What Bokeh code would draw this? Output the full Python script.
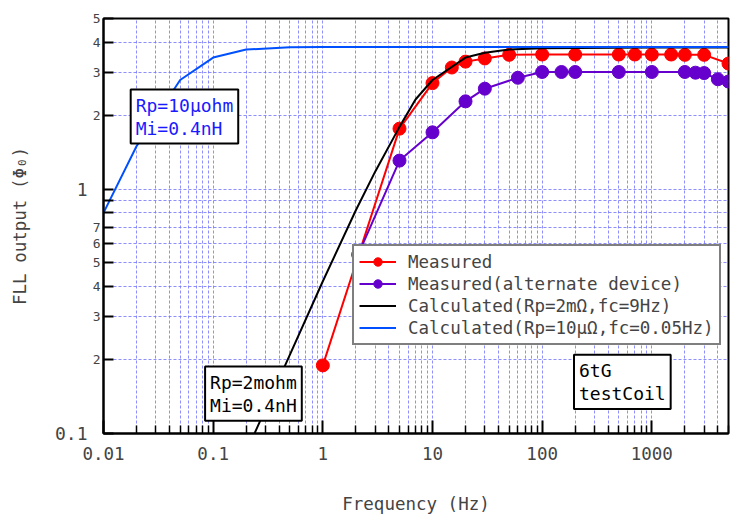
from bokeh.plotting import figure
from bokeh.models import (LogAxis, FixedTicker, Label, Legend, LegendItem, Range1d)
from bokeh.embed import file_html
from bokeh.resources import INLINE

FONT = "DejaVu Sans Mono"

# ---------------- data ----------------
x_major = [0.01, 0.1, 1, 10, 100, 1000]
x_major_labels = ["0.01", "0.1", "1", "10", "100", "1000"]
x_minor = [d * k for d in [0.01, 0.1, 1, 10, 100, 1000] for k in range(2, 10)]

y_major = [0.1, 1]
y_major_labels = ["0.1", "1"]
y_minor = [0.1, 0.2, 0.3, 0.4, 0.5, 0.6, 0.7, 0.8, 0.9, 1, 2, 3, 4, 5]
y_minor_labels = ["", "2", "3", "4", "5", "6", "7", "", "", "", "2", "3", "4", "5"]

freq_meas = [1, 5, 10, 15, 20, 30, 50, 100, 200, 500, 700, 1000, 1500, 2000, 3000, 5000]
meas = [0.19, 1.77, 2.72, 3.15, 3.33, 3.43, 3.55, 3.56, 3.56, 3.56, 3.56, 3.56, 3.56, 3.55, 3.55, 3.27]

freq_alt = [2.1, 5, 10, 20, 30, 60, 100, 150, 200, 500, 1000, 2000, 2500, 3000, 4000, 5000]
alt = [0.54, 1.31, 1.71, 2.29, 2.58, 2.86, 3.02, 3.02, 3.02, 3.02, 3.02, 3.02, 3.0, 2.99, 2.82, 2.76]

freq_calc_2m = [0.1, 0.2, 0.5, 1, 2, 3, 5, 7, 10, 20, 30, 50, 100, 1000, 5000]
calc_2m = [0.042, 0.084, 0.21, 0.42, 0.82, 1.18, 1.8, 2.33, 2.8, 3.46, 3.62, 3.73, 3.78, 3.8, 3.8]

freq_calc_10u = [0.01, 0.02, 0.05, 0.1, 0.2, 0.5, 1, 10, 100, 1000, 5000]
calc_10u = [0.8, 1.5, 2.8, 3.46, 3.73, 3.81, 3.82, 3.82, 3.82, 3.82, 3.82]

legend_labels = ["Measured", "Measured(alternate device)",
                 "Calculated(Rp=2mΩ,fc=9Hz)", "Calculated(Rp=10μΩ,fc=0.05Hz)"]

# ---------------- figure ----------------
p = figure(width=745, height=516, x_axis_type="log", y_axis_type="log",
           x_range=Range1d(0.01, 5000), y_range=Range1d(0.1, 5),
           output_backend="svg", toolbar_location=None,
           min_border_left=103, min_border_right=17, min_border_top=18, min_border_bottom=82,
           background_fill_color="white", border_fill_color="white")
p.outline_line_color = "black"
p.outline_line_width = 2

# x axis
xa = p.xaxis[0]
xa.ticker = FixedTicker(ticks=x_major, minor_ticks=x_minor)
xa.major_label_overrides = dict(zip(x_major, x_major_labels))
xa.major_tick_in = 13
xa.major_tick_out = 0
xa.minor_tick_in = 8
xa.minor_tick_out = 0
xa.axis_line_width = 2
xa.major_tick_line_width = 2
xa.minor_tick_line_width = 1.5
xa.major_label_text_font = FONT
xa.major_label_text_font_size = "17.5px"
xa.major_label_standoff = 13
xa.axis_label = "Frequency (Hz)"
xa.axis_label_text_font = FONT
xa.axis_label_text_font_size = "17.5px"
xa.axis_label_text_font_style = "normal"
xa.axis_label_standoff = 31

# inner y axis: ticks + small labels
ya = p.yaxis[0]
ya.ticker = FixedTicker(ticks=y_minor, minor_ticks=[])
ya.major_label_overrides = dict(zip(y_minor, y_minor_labels))
ya.major_tick_in = 10
ya.major_tick_out = 0
ya.minor_tick_in = 0
ya.minor_tick_out = 0
ya.axis_line_width = 2
ya.major_tick_line_width = 2
ya.major_label_text_font = FONT
ya.major_label_text_font_size = "13px"
ya.major_label_standoff = 3

# outer y axis: large labels 0.1 and 1 + title
ya2 = LogAxis(ticker=FixedTicker(ticks=y_major, minor_ticks=[]),
              major_label_overrides=dict(zip(y_major, y_major_labels)),
              major_tick_in=0, major_tick_out=0, minor_tick_in=0, minor_tick_out=0,
              axis_line_color=None,
              major_label_text_font=FONT, major_label_text_font_size="18px",
              major_label_standoff=2,
              axis_label="FLL output (Φ₀)", axis_label_text_font=FONT,
              axis_label_text_font_size="17.5px", axis_label_text_font_style="normal",
              axis_label_standoff=22)
p.add_layout(ya2, "left")

# grids
for g in (p.xgrid[0], p.ygrid[0]):
    g.grid_line_color = "#7272ff"
    g.grid_line_alpha = 0.8
    g.grid_line_dash = "3 2"
    g.grid_line_width = 1
p.xgrid[0].minor_grid_line_color = "#7272ff"
p.xgrid[0].minor_grid_line_alpha = 0.8
p.xgrid[0].minor_grid_line_dash = "3 2"
p.xgrid[0].minor_grid_line_width = 1

# series
RED, PURPLE, BLUE = "#ff0000", "#6600cc", "#0050ff"
r1l = p.line(freq_meas, meas, line_color=RED, line_width=2)
r1s = p.scatter(freq_meas, meas, size=13, fill_color=RED, line_color=RED)
r2l = p.line(freq_alt, alt, line_color=PURPLE, line_width=2)
r2s = p.scatter(freq_alt, alt, size=13, fill_color=PURPLE, line_color=PURPLE)
r3 = p.line(freq_calc_2m, calc_2m, line_color="black", line_width=2)
r4 = p.line(freq_calc_10u, calc_10u, line_color=BLUE, line_width=2)

legend = Legend(items=[
    LegendItem(label=legend_labels[0], renderers=[r1l, r1s]),
    LegendItem(label=legend_labels[1], renderers=[r2l, r2s]),
    LegendItem(label=legend_labels[2], renderers=[r3]),
    LegendItem(label=legend_labels[3], renderers=[r4]),
], location=(249, 88))
legend.label_text_font = FONT
legend.label_text_font_size = "17.5px"
legend.border_line_color = "black"
legend.border_line_width = 2
legend.background_fill_color = "white"
legend.background_fill_alpha = 1
legend.padding = 5
legend.spacing = 1
legend.margin = 0
legend.glyph_width = 37
legend.glyph_height = 21
legend.label_height = 21
legend.label_standoff = 12
p.add_layout(legend)

# annotation boxes
def box(x, y, text, color):
    lab = Label(x=x, y=y, text=text, anchor="top_left",
                text_font=FONT, text_font_size="18px", text_color=color,
                text_line_height=1.1,
                background_fill_color="white", background_fill_alpha=1,
                border_line_color="black", border_line_width=2, padding=5)
    p.add_layout(lab)

box(0.0177, 2.56, "Rp=10μohm\nMi=0.4nH", "#1a1aff")
box(0.0844, 0.188, "Rp=2mohm\nMi=0.4nH", "black")
box(195, 0.21, "6tG\ntestCoil", "black")

open("out.html", "w").write(file_html(p, INLINE))
